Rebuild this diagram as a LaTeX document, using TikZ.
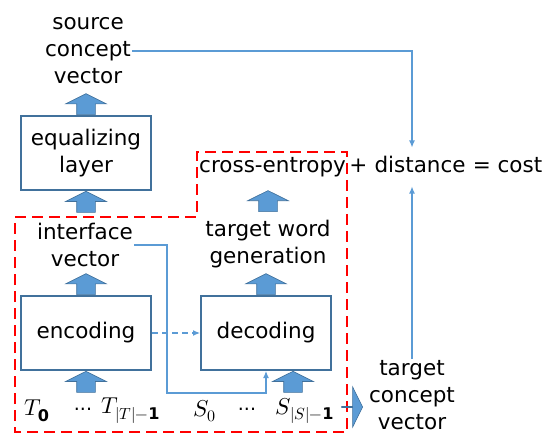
\documentclass[tikz,border=0pt]{standalone}
\usepackage{fontspec}
\usepackage{unicode-math}
\setmainfont{DejaVu Sans}
\setmathfont{Latin Modern Math}
\usetikzlibrary{arrows.meta,positioning,shapes.arrows}
\definecolor{boxline}{HTML}{41719C}
\definecolor{fatblue}{HTML}{5B9BD5}
\definecolor{linkblue}{HTML}{5B9BD5}
\tikzset{
  layer/.style={draw=boxline,line width=2pt,minimum width=130pt,minimum height=74pt,
    align=center,inner sep=0pt},
  lbl/.style={align=center,inner sep=1pt},
  sym/.style={inner sep=1pt,font=\fontsize{23}{26}\selectfont},
  dots/.style={inner sep=1pt,font=\fontsize{19}{22}\selectfont},
  % thick block arrows between the stages
  fat/.style={single arrow,draw=boxline,fill=fatblue,line width=0.6pt,
    inner xsep=9pt,inner ysep=0pt,minimum height=21pt,minimum width=40pt,
    single arrow head extend=11pt,single arrow tip angle=127},
  fatup/.style={fat,shape border rotate=90},
  link/.style={draw=linkblue,line width=1.2pt,-{Latex[length=7pt,width=6pt]}},
  region/.style={draw=red,line width=2.8pt,dash pattern=on 11pt off 6pt},
}
\begin{document}
\begin{tikzpicture}[x=1pt,y=-1pt,every node/.style={font=\fontsize{21.5}{27}\selectfont}]
  \useasboundingbox (0,0) rectangle (545,435);
  % ---- joint part: encoder / decoder ----
  \draw[region] (15,217) -- (197,217) -- (197,152) -- (347,152)
    -- (347,432) -- (15,432) -- cycle;
  \node[layer] (enc) at (86,333) {encoding};
  \node[layer] (dec) at (266,333) {decoding};
  \node[lbl] (iface) at (85,245) {interface\\vector};
  \node[lbl] (gen) at (268,244) {target word\\generation};
  \node[fatup,above=0pt of enc] (a3) {};
  \node[fatup,above=0pt of dec] (a5) {};
  \node[fatup,below=0pt of enc] (a4) {};
  \node[fatup,anchor=north] (a6) at ([xshift=27pt]dec.south) {};
  \node[fatup,above=7pt of gen] (a7) {};
  \draw[link,dashed,dash pattern=on 6pt off 4pt] (enc) -- (dec);
  \coordinate (turn) at (167,393);
  \draw[link] (iface.east) -| (turn) -| (dec.south);
  % ---- input symbols ----
  \node[sym] (t0) at (37,411) {$T_{\mathbf{0}}$};
  \node[dots] (td) at (83,409) {...};
  \node[sym] (tn) at (131,411) {$T_{|T|-\mathbf{1}}$};
  \node[sym] (s0) at (205,411) {$S_{0}$};
  \node[dots] (sd) at (247,409) {...};
  \node[sym] (sn) at (305,411) {$S_{|S|-\mathbf{1}}$};
  \node[fat] (a8) at (352,407) {};
  % ---- equalizing part ----
  \node[layer] (eq) at (86,153) {equalizing\\layer};
  \node[lbl] (src) at (88,51) {source\\concept\\vector};
  \node[fatup,above=0pt of eq] (a1) {};
  \node[fatup,below=0pt of eq] (a2) {};
  % ---- cost ----
  \node[anchor=base west,inner sep=0pt] (ce) at (199,173) {cross-entropy};
  \node[anchor=base west,inner sep=0pt] (plus) at ([xshift=3pt]ce.base east) {+};
  \node[anchor=base west,inner sep=0pt] (dist) at ([xshift=6.8pt]plus.base east) {distance};
  \node[anchor=base west,inner sep=0pt] (cost) at ([xshift=6.8pt]dist.base east) {= cost};
  \node[lbl] (tgt) at (412,395) {target\\concept\\vector};
  \draw[link] (src.east) -| ([yshift=9pt]tgt.north |- dist.north);
  \draw[link] (tgt.north) -- ([yshift=-13pt]tgt.north |- dist.south);
\end{tikzpicture}
\end{document}
